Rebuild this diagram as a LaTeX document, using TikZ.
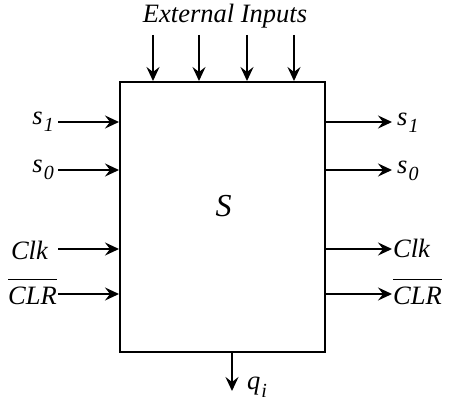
\documentclass[tikz,border=0pt]{standalone}
\usepackage{fontspec}
\setmainfont{Liberation Serif}
\usetikzlibrary{arrows.meta,positioning}
\newcommand{\barred}[1]{\vbox{\hrule height 1.3pt \kern 6pt \hbox{#1}}}
\newcommand{\lsub}[2][7pt]{\kern1pt\raisebox{-#1}{\fontsize{20}{22}\selectfont #2}}

\begin{document}
\begin{tikzpicture}[x=1pt, y=-1pt, >={Stealth[length=14pt,width=13pt,inset=5pt]},
  font=\fontsize{26.5}{30}\selectfont\itshape,
  blk/.style={draw, line width=2pt, minimum width=205pt, minimum height=270pt, inner sep=0pt},
  sig/.style={->, line width=2pt},
  lbl/.style={inner sep=0pt}]

\useasboundingbox (0,0) rectangle (452,404);

% --- the block ---
\node[blk] (box) at (222.5,217) {};
\node[lbl, font=\fontsize{32}{36}\selectfont\itshape] (name) at (223.5,206) {S};

% --- external inputs on top ---
\node[lbl, anchor=base] (ext) at (225,23) {External Inputs};
\foreach \x/\nm in {153/a,199/b,247/c,294/d}{
  \coordinate (t\nm) at (\x,35);
  \draw[sig] (t\nm) -- (t\nm |- box.north);
}

% --- left inputs and right outputs ---
\foreach \y/\nm in {122/a,170/b,249/c,294/d}{
  \coordinate (l\nm) at (58,\y);
  \coordinate (r\nm) at (392,\y);
  \draw[sig] (l\nm) -- (l\nm -| box.west);
  \draw[sig] (r\nm -| box.east) -- (r\nm);
}
\node[lbl, anchor=base east] (ls1)  at (54,124)  {s\lsub{1}};
\node[lbl, anchor=base east] (ls0)  at (54,172)  {s\lsub{0}};
\node[lbl, anchor=base east] (lclk) at (48,259)  {Clk};
\node[lbl, anchor=base east] (lclr) at (57,304)  {\barred{CLR}};
\node[lbl, anchor=base west] (rs1)  at (397,125) {s\lsub{1}};
\node[lbl, anchor=base west] (rs0)  at (397,173) {s\lsub{0}};
\node[lbl, anchor=base west] (rclk) at (393,257) {Clk};
\node[lbl, anchor=base west] (rclr) at (393,304) {\barred{CLR}};

% --- output ---
\coordinate (qo) at (232,391);
\draw[sig] (qo |- box.south) -- (qo);
\node[lbl, anchor=base west] (q) at (247,389) {q\lsub[8pt]{i}};
\end{tikzpicture}
\end{document}
